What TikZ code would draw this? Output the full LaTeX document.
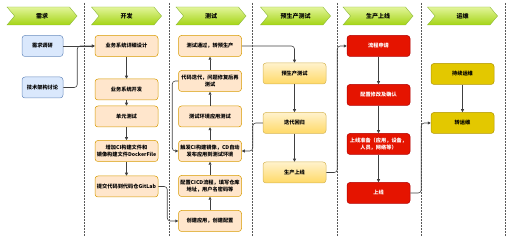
\documentclass[tikz,border=0pt]{standalone}
\usepackage{fontspec}
\setmainfont{Noto Sans CJK SC}
\usetikzlibrary{shapes.symbols,arrows.meta,positioning}
\definecolor{stagetop}{HTML}{E2F59A}
\definecolor{stagebot}{HTML}{A4D414}
\definecolor{stageline}{HTML}{8CB83A}
\definecolor{reqfill}{HTML}{DAE8FC}
\definecolor{reqline}{HTML}{6C8EBF}
\definecolor{devfill}{HTML}{FFE6CC}
\definecolor{devline}{HTML}{D79B00}
\definecolor{pretop}{HTML}{FFF2CC}
\definecolor{prebot}{HTML}{FFD966}
\definecolor{preline}{HTML}{D6B656}
\definecolor{prodfill}{HTML}{E51400}
\definecolor{prodline}{HTML}{B20000}
\definecolor{opsfill}{HTML}{E3C800}
\definecolor{opsline}{HTML}{B09500}

\begin{document}
\begin{tikzpicture}[x=1pt, y=-1pt,
    stage/.style={signal, signal from=west, signal to=east, signal pointer angle=100,
                  draw=stageline, top color=stagetop, bottom color=stagebot,
                  minimum width=70pt, minimum height=18pt, inner sep=0pt,
                  font=\fontsize{6}{7}\selectfont\bfseries},
    box/.style={rectangle, rounded corners=3pt, minimum width=63pt, minimum height=21pt,
                align=center, inner sep=1pt, line width=0.5pt, font=\fontsize{5.2}{7}\selectfont\bfseries},
    reqbox/.style={box, minimum width=41pt, draw=reqline, fill=reqfill},
    devbox/.style={box, draw=devline, fill=devfill},
    prebox/.style={box, draw=preline, top color=pretop, bottom color=prebot},
    prodbox/.style={box, draw=prodline, fill=prodfill, text=white},
    opsbox/.style={box, draw=opsline, fill=opsfill},
    lane/.style={densely dotted, line width=0.5pt, black!65},
    arr/.style={-{Triangle[length=3pt,width=3pt]}, line width=0.6pt, black!75, rounded corners=3pt}
]
    \useasboundingbox (0,0) rectangle (512,240);
    \foreach \x in {84,169,252,337,421,505}
        \draw[lane] (\x,3) -- (\x,237);

    \node[stage] (sreq)  at (42,16)    {需求};
    \node[stage] (sdev)  at (126.5,16) {开发};
    \node[stage] (stest) at (211,16)   {测试};
    \node[stage] (spre)  at (295.5,16) {预生产测试};
    \node[stage] (sprod) at (378,16)   {生产上线};
    \node[stage] (sops)  at (462.5,16) {运维};

    \node[reqbox] (req1) at (42.5,46)   {需求调研};
    \node[reqbox] (req2) at (42.5,87.5) {技术架构讨论};

    \node[devbox] (dev1) at (126.5,46)    {业务系统详细设计};
    \node[devbox] (dev2) at (126.5,89.5)  {业务系统开发};
    \node[devbox] (dev3) at (126.5,116.5) {单元测试};
    \node[devbox] (dev4) at (126.5,151)   {增加CI构建文件和\\镜像构建文件DockerFile};
    \node[devbox] (dev5) at (126.5,186.5) {提交代码到代码仓GitLab};

    \node[devbox] (test1) at (210,46)    {测试通过，转预生产};
    \node[devbox] (test2) at (210,81)    {代码迭代，问题修复后再\\测试};
    \node[devbox] (test3) at (210,116.5) {测试环境应用测试};
    \node[devbox] (test4) at (210,151)   {触发CI构建镜像，CD自动\\发布应用到测试环境};
    \node[devbox] (test5) at (210,186)   {配置CICD流程，填写仓库\\地址，用户名密码等};
    \node[devbox] (test6) at (210,221)   {创建应用，创建配置};

    \node[prebox] (pre1) at (294.5,73.5) {预生产测试};
    \node[prebox] (pre2) at (294.5,123)  {迭代回归};
    \node[prebox] (pre3) at (294.5,172.5) {生产上线};

    \node[prodbox] (prod1) at (378.5,46)  {流程申请};
    \node[prodbox] (prod2) at (378.5,95)  {配置修改及确认};
    \node[prodbox] (prod3) at (378.5,144) {上线准备（应用，设备，\\人员，网络等）};
    \node[prodbox] (prod4) at (378.5,193) {上线};

    \node[opsbox] (ops1) at (462.5,74)  {持续运维};
    \node[opsbox] (ops2) at (462.5,123) {转运维};

    \draw[arr] (req1.east) -- (dev1.west);
    \draw[arr] (req2.east) -- ++(14,0) |- (dev1.west);
    \draw[arr] (dev1) -- (dev2);
    \draw[arr] (dev2) -- (dev3);
    \draw[arr] (dev3) -- (dev4);
    \draw[arr] (dev4) -- (dev5);
    \draw[arr] (dev5.east) -- ++(9,0) |- (test6.west);
    \draw[arr] (test6) -- (test5);
    \draw[arr] (test5) -- (test4);
    \draw[arr] (test4) -- (test3);
    \draw[arr] (test3) -- (test2);
    \draw[arr] (test2) -- (test1);
    \draw[arr] (test2.west) -- ++(-6,0) |- (test4.west);
    \draw[arr] (test1.east) -| (pre1.north);
    \draw[arr] (pre1) -- (pre2);
    \draw[arr] (pre2) -- (pre3);
    \draw[arr] (pre2.west) -- ++(-10,0) |- (test4.east);
    \draw[arr] (pre3.east) -- ++(11,0) |- (prod1.west);
    \draw[arr] (prod1) -- (prod2);
    \draw[arr] (prod2) -- (prod3);
    \draw[arr] (prod3) -- (prod4);
    \draw[arr] (prod4.east) -- ++(11,0) |- (ops2.west);
    \draw[arr] (ops1) -- (ops2);
\end{tikzpicture}
\end{document}
